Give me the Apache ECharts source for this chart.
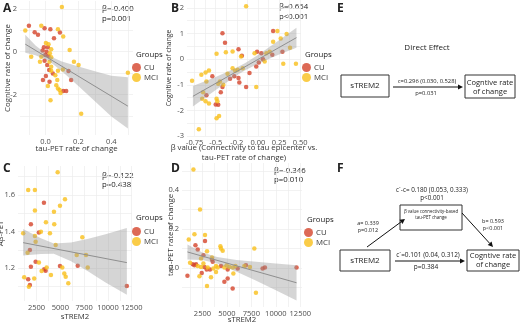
<!DOCTYPE html>
<html>
<head>
<meta charset="utf-8">
<script src="https://cdn.jsdelivr.net/npm/echarts@6/dist/echarts.min.js"></script>
<style>
  html, body { margin: 0; padding: 0; background: #fff; }
  #main { width: 520px; height: 322px; }
</style>
</head>
<body>
<div id="main"></div>
<script>
// ---------- data ----------
// A: tau-PET rate of change vs cognitive rate of change
var aCU = [[-0.10, 1.21], [-0.005, 1.10], [-0.065, 0.91], [-0.045, 0.79], [0.03, 1.05], [0.088, 0.90], [0.052, 0.63],
  [-0.009, 0.21], [0.015, 0.21], [-0.017, 0.05], [0.007, 0.0], [-0.001, -0.16], [0.019, -0.20], [-0.005, -0.42],
  [0.14, -0.91], [0.011, -0.63], [0.023, -0.86], [0.045, -1.02], [0.003, -1.14], [-0.015, -1.33], [0.025, -1.41],
  [0.156, -1.33], [0.108, -1.84], [0.126, -1.84]];
var aMCI = [[0.10, 2.09], [-0.122, 0.99], [-0.025, 1.21], [0.076, 1.05], [0.108, 0.71], [0.147, 0.08], [0.003, 0.40],
  [0.019, 0.35], [0.035, 0.11], [0.027, -0.08], [-0.025, -0.24], [-0.086, -0.24], [0.035, -0.26], [-0.033, -0.47],
  [0.025, -0.47], [0.173, -0.47], [0.201, -0.63], [0.106, -0.83], [0.035, -0.71], [0.035, -0.89], [0.076, -0.89],
  [0.06, -1.10], [0.072, -1.33], [0.015, -1.61], [0.066, -1.57], [0.076, -1.72], [0.086, -1.80], [0.092, -1.93],
  [0.031, -2.27], [0.217, -2.90], [0.50, -0.99]];
var aFit = [[-0.122, 0.35], [0.50, -2.55]];
var aBandX = [-0.122, -0.06, 0.02, 0.1, 0.2, 0.3, 0.4, 0.5];
var aBandLo = [-0.05, -0.17, -0.43, -0.92, -1.61, -2.32, -3.03, -3.6];
var aBandHi = [0.79, 0.29, -0.19, -0.46, -0.69, -0.92, -1.13, -1.2];

// B: beta value vs cognitive rate of change
var bCU = [[-0.42, 1.01], [-0.39, 0.64], [0.18, 1.10], [-0.23, 0.39], [-0.19, 0.13], [-0.01, 0.29], [0.04, 0.23],
  [0.17, 0.17], [0.29, 0.29], [0.06, 0.0], [0.01, -0.13], [-0.02, -0.29], [-0.33, -0.76], [-0.28, -0.67],
  [-0.23, -0.74], [-0.10, -0.54], [-0.22, -0.91], [-0.14, -1.09], [-0.42, -1.09], [-0.54, -0.67], [-0.44, -1.29],
  [-0.61, -1.41], [-0.50, -1.77], [-0.47, -1.78]];
var bMCI = [[-0.14, 2.07], [0.23, 1.10], [0.34, 0.98], [0.27, 0.81], [0.18, 0.68], [-0.49, 0.21], [-0.38, 0.27],
  [-0.30, 0.30], [-0.20, 0.10], [-0.04, 0.23], [0.10, 0.23], [0.14, 0.29], [0.38, 0.45], [0.45, -0.18], [0.30, -0.18],
  [0.08, -0.09], [-0.30, -0.35], [-0.27, -0.45], [-0.24, -0.41], [-0.18, -0.35], [-0.36, -0.57], [-0.02, -1.09],
  [-0.41, -1.00], [-0.45, -0.87], [-0.47, -0.96], [-0.61, -0.87], [-0.62, -0.52], [-0.67, -0.61], [-0.58, -0.44],
  [-0.78, -0.84], [-0.65, -1.29], [-0.66, -1.55], [-0.62, -1.64], [-0.58, -1.73], [-0.49, -1.55], [-0.48, -1.64],
  [-0.46, -2.22], [-0.49, -2.31], [-0.70, -2.74]];
var bFit = [[-0.77, -1.45], [0.456, 0.84]];
var bBandX = [-0.77, -0.5, -0.25, -0.15, 0, 0.25, 0.456];
var bBandLo = [-1.85, -1.20, -0.63, -0.43, -0.18, 0.18, 0.45];
var bBandHi = [-1.05, -0.70, -0.33, -0.15, 0.16, 0.74, 1.23];
var bTickLabels = { '-0.75': '-0.75', '-0.5': '-0.5', '-0.25': '-0.2', '0': '0.00', '0.25': '0.25', '0.5': '0.50' };

// C: sTREM2 vs Abeta-PET
var cCU = [[3275, 1.558], [1906, 1.440], [2748, 1.395], [1801, 1.30], [2401, 1.236], [1906, 1.209], [3306, 1.195],
  [3454, 1.187], [4960, 1.213], [6823, 1.214], [1622, 1.140], [1801, 1.109], [11983, 1.103]];
var cMCI = [[4717, 1.725], [1622, 1.628], [2327, 1.628], [5486, 1.577], [4960, 1.542], [4328, 1.509], [2327, 1.515],
  [3485, 1.451], [4359, 1.440], [2959, 1.400], [3907, 1.391], [1095, 1.391], [2327, 1.377], [2401, 1.345],
  [4507, 1.327], [1558, 1.285], [7308, 1.369], [6718, 1.273], [7697, 1.273], [2748, 1.231], [3559, 1.205],
  [3033, 1.185], [5202, 1.205], [5412, 1.172], [5560, 1.154], [7876, 1.205], [1200, 1.151], [2253, 1.145],
  [1695, 1.099], [5834, 1.118], [4012, 1.163]];
var cFit = [[1093, 1.340], [11985, 1.231]];
var cBandX = [1093, 2959, 4317, 6127, 7938, 9749, 11985];
var cBandLo = [1.27, 1.278, 1.280, 1.239, 1.182, 1.122, 1.055];
var cBandHi = [1.415, 1.364, 1.336, 1.341, 1.362, 1.386, 1.42];

// D: sTREM2 vs tau-PET rate of change
var dCU = [[1785, 0.117], [2764, 0.139], [2020, 0.095], [2601, 0.065], [3550, 0.031], [1510, 0.019], [1683, 0.014],
  [1846, 0.019], [2703, 0.005], [3274, -0.008], [2938, -0.008], [4396, 0.009], [6100, -0.003], [6946, 0.014],
  [8650, -0.003], [8884, 0.002], [12118, 0.002], [3478, 0.043], [5080, -0.008], [969, -0.041], [2428, -0.026],
  [5080, -0.055], [4743, -0.072], [5590, -0.106]];
var dMCI = [[1581, 0.507], [2254, 0.301], [1683, 0.174], [1102, 0.146], [2764, 0.169], [2356, 0.048], [2968, 0.086],
  [3478, 0.054], [3886, 0.009], [4335, 0.112], [4396, 0.100], [4570, 0.088], [7803, 0.100], [1234, 0.026],
  [2020, 0.009], [2356, 0.005], [2601, 0.023], [3040, 0.002], [3621, -0.003], [4060, 0.002], [4743, 0.002],
  [4978, 0.014], [5253, 0.005], [5620, 0.002], [5865, 0.009], [6783, 0.009], [7354, 0.005], [3376, -0.049],
  [2193, -0.043], [5661, -0.029], [2968, -0.094], [7966, -0.129], [3886, -0.021]];
var dFit = [[969, 0.082], [12118, -0.077]];
var dBandX = [969, 2500, 4000, 6000, 8000, 10000, 12118];
var dBandLo = [0.043, 0.041, 0.022, -0.020, -0.067, -0.116, -0.168];
var dBandHi = [0.121, 0.079, 0.056, 0.040, 0.031, 0.022, 0.014];

var groups = ['CU', 'MCI'];
var stats = [['β=-0.400', 'p=0.001'], ['β=0.654', 'p<0.001'], ['β=-0.122', 'p=0.438'], ['β=-0.346', 'p=0.010']];

// ---------- style ----------
var font = '"Open Sans", "Noto Sans", sans-serif';
var cuColor = '#d5442a';
var mciColor = '#f9bf1a';
var gridColor = '#ececec';
var labelColor = '#4d4d4d';

var myChart = echarts.init(document.getElementById('main'), null, { renderer: 'canvas' });

function axis(gi, min, max, labels, splits, fmt, name, gap, nameSize) {
  return {
    gridIndex: gi, type: 'value', min: min, max: max,
    axisLine: { show: false },
    axisTick: { show: false, customValues: splits },
    splitLine: { show: true, lineStyle: { color: gridColor, width: 0.7 } },
    axisLabel: { customValues: labels, formatter: fmt, fontSize: 7.5, color: labelColor, fontFamily: font, margin: 3, hideOverlap: false },
    name: name, nameLocation: 'middle', nameGap: gap, nameMoveOverlap: false,
    nameTextStyle: { fontSize: nameSize || 7.8, color: '#333', fontFamily: font, lineHeight: 10 }
  };
}

function dots(gi, name, data, color) {
  return {
    type: 'scatter', name: name, xAxisIndex: gi, yAxisIndex: gi, data: data,
    symbolSize: 4.5, itemStyle: { color: color }, z: 2, silent: true
  };
}

function fitLine(gi, data) {
  return {
    type: 'line', xAxisIndex: gi, yAxisIndex: gi, data: data, symbol: 'none',
    lineStyle: { color: '#8a8a8a', width: 1 }, z: 3, silent: true
  };
}

function band(gi, xs, lo, hi) {
  return {
    type: 'custom', xAxisIndex: gi, yAxisIndex: gi, z: 4, silent: true,
    data: xs.map(function (x, i) { return [x, lo[i], hi[i]]; }),
    renderItem: function (params, api) {
      if (params.dataIndex !== 0) return null;
      var top = [], bottom = [];
      for (var i = 0; i < xs.length; i++) {
        top.push(api.coord([xs[i], hi[i]]));
        bottom.unshift(api.coord([xs[i], lo[i]]));
      }
      return { type: 'polygon', shape: { points: top.concat(bottom) }, style: { fill: 'rgba(150,150,150,0.4)' } };
    }
  };
}

function legend(left, top) {
  return {
    left: left, top: top, orient: 'vertical', icon: 'circle', itemWidth: 9, itemHeight: 9, itemGap: 1, padding: 0,
    selectedMode: false, data: groups, textStyle: { fontSize: 7.8, color: '#333', fontFamily: font, padding: [0, 0, 0, -2] }
  };
}

function txt(x, y, s, size, align, weight) {
  return {
    type: 'text', x: x, y: y, silent: true,
    style: { text: s, fill: '#222', fontSize: size, fontFamily: font, fontWeight: weight || 'normal', align: align || 'left', verticalAlign: 'middle' }
  };
}

function box(x, y, w, h) {
  return { type: 'rect', shape: { x: x, y: y, width: w, height: h }, style: { fill: '#fff', stroke: '#333', lineWidth: 1 }, silent: true };
}

function arrow(x1, y1, x2, y2) {
  var ang = Math.atan2(y2 - y1, x2 - x1), L = 5, W = 2.6;
  var bx = x2 - L * Math.cos(ang), by = y2 - L * Math.sin(ang);
  return [
    { type: 'line', shape: { x1: x1, y1: y1, x2: bx, y2: by }, style: { stroke: '#111', lineWidth: 1 }, silent: true },
    { type: 'polygon', shape: { points: [[x2, y2], [bx + W * Math.sin(ang), by - W * Math.cos(ang)], [bx - W * Math.sin(ang), by + W * Math.cos(ang)]] }, style: { fill: '#111' }, silent: true }
  ];
}

var f1 = function (v) { return v.toFixed(1); };
var f0 = function (v) { return String(Math.round(v)); };

var graphics = [
  txt(3, 9, 'A', 12, 'left', 'bold'), txt(171, 9, 'B', 12, 'left', 'bold'),
  txt(3, 169, 'C', 12, 'left', 'bold'), txt(171, 169, 'D', 12, 'left', 'bold'),
  txt(337, 9, 'E', 12, 'left', 'bold'), txt(337, 169, 'F', 12, 'left', 'bold'),
  txt(102, 9, stats[0][0], 7.8), txt(102, 19, stats[0][1], 7.8),
  txt(279, 7, stats[1][0], 7.8), txt(279, 17, stats[1][1], 7.8),
  txt(102, 176, stats[2][0], 7.8), txt(102, 185, stats[2][1], 7.8),
  txt(274, 171, stats[3][0], 7.8), txt(274, 180, stats[3][1], 7.8),
  txt(136, 55, 'Groups', 7.8), txt(305, 55, 'Groups', 7.8),
  txt(136, 218, 'Groups', 7.8), txt(307, 220, 'Groups', 7.8),
  // E: direct effect
  txt(427, 48, 'Direct Effect', 8, 'center'),
  box(341, 75, 48, 22), txt(365, 86, 'sTREM2', 8, 'center'),
  txt(427, 81, 'c=0.296 (0.030, 0.528)', 5.8, 'center'), txt(426, 93, 'p=0.031', 5.8, 'center'),
  box(465, 75, 50, 23), txt(490, 82.5, 'Cogntive rate', 7.5, 'center'), txt(490, 91.5, 'of change', 7.5, 'center'),
  // F: mediation
  txt(432, 190, 'c`-c= 0.180 (0.053, 0.333)', 6.3, 'center'), txt(432, 198, 'p<0.001', 6.3, 'center'),
  box(400, 205, 62, 25), txt(431, 212, 'β value connectivity-based', 4.4, 'center'), txt(431, 218, 'tau-PET change', 4.4, 'center'),
  box(340, 250, 50, 21), txt(365, 260.5, 'sTREM2', 8, 'center'),
  box(467, 250, 52, 21), txt(493, 256, 'Cogntive rate', 7.5, 'center'), txt(493, 265, 'of change', 7.5, 'center'),
  txt(368, 223, 'a= 0.339', 5.5, 'center'), txt(368, 230, 'p=0.012', 5.5, 'center'),
  txt(493, 221.5, 'b= 0.593', 5.5, 'center'), txt(493, 228, 'p<0.001', 5.5, 'center'),
  txt(428, 255, 'c`=0.101 (0.04, 0.312)', 6.5, 'center'), txt(426, 267, 'p=0.384', 6.5, 'center')
];
graphics = graphics.concat(arrow(393, 87, 463, 87), arrow(367, 247, 405, 219), arrow(462, 213, 493, 247), arrow(395, 261, 465, 261));

var option = {
  backgroundColor: '#fff',
  animation: false,
  textStyle: { fontFamily: font },
  grid: [
    { left: 20, top: 1, width: 113, height: 134, outerBoundsMode: 'none' },
    { left: 187, top: 0, width: 114, height: 136, outerBoundsMode: 'none' },
    { left: 18, top: 166, width: 114, height: 135, outerBoundsMode: 'none' },
    { left: 182, top: 163, width: 120, height: 144, outerBoundsMode: 'none' }
  ],
  xAxis: [
    axis(0, -0.154, 0.531, [0, 0.2, 0.4], [-0.1, 0, 0.1, 0.2, 0.3, 0.4, 0.5], f1, 'tau-PET rate of change', 9),
    axis(1, -0.84, 0.51, [-0.75, -0.5, -0.25, 0, 0.25, 0.5], [-0.75, -0.625, -0.5, -0.375, -0.25, -0.125, 0, 0.125, 0.25, 0.375, 0.5],
      function (v) { return bTickLabels[String(v)]; }, 'β value (Connectivity to tau epicenter vs.\ntau-PET rate of change)', 7),
    axis(2, 551, 12527, [2500, 5000, 7500, 10000, 12500], [1250, 2500, 3750, 5000, 6250, 7500, 8750, 10000, 11250, 12500], f0, 'sTREM2', 11),
    axis(3, 412, 12675, [2500, 5000, 7500, 10000, 12500], [1250, 2500, 3750, 5000, 6250, 7500, 8750, 10000, 11250, 12500], f0, 'sTREM2', 8)
  ],
  yAxis: [
    axis(0, -3.9, 2.37, [-2, 0, 2], [-3, -2, -1, 0, 1, 2], f0, 'Cognitive rate of change', 7.5),
    axis(1, -3.0, 2.31, [-3, -2, -1, 0, 1, 2], [-3, -2.5, -2, -1.5, -1, -0.5, 0, 0.5, 1, 1.5, 2], f0, 'Cognitive rate of change', 13, 6.8),
    axis(2, 1.0215, 1.7585, [1.2, 1.4, 1.6], [1.1, 1.2, 1.3, 1.4, 1.5, 1.6, 1.7], f1, 'Aβ-PET', 12),
    axis(3, -0.202, 0.541, [0, 0.2, 0.4], [-0.1, 0, 0.1, 0.2, 0.3, 0.4, 0.5], f1, 'tau-PET rate of change', 6)
  ],
  legend: [legend(132, 63), legend(302, 63), legend(132, 227), legend(304, 228)],
  graphic: graphics,
  series: [
    dots(0, 'CU', aCU, cuColor), dots(0, 'MCI', aMCI, mciColor), band(0, aBandX, aBandLo, aBandHi), fitLine(0, aFit),
    dots(1, 'CU', bCU, cuColor), dots(1, 'MCI', bMCI, mciColor), band(1, bBandX, bBandLo, bBandHi), fitLine(1, bFit),
    dots(2, 'CU', cCU, cuColor), dots(2, 'MCI', cMCI, mciColor), band(2, cBandX, cBandLo, cBandHi), fitLine(2, cFit),
    dots(3, 'CU', dCU, cuColor), dots(3, 'MCI', dMCI, mciColor), band(3, dBandX, dBandLo, dBandHi), fitLine(3, dFit)
  ]
};
myChart.setOption(option);
</script>
</body>
</html>
